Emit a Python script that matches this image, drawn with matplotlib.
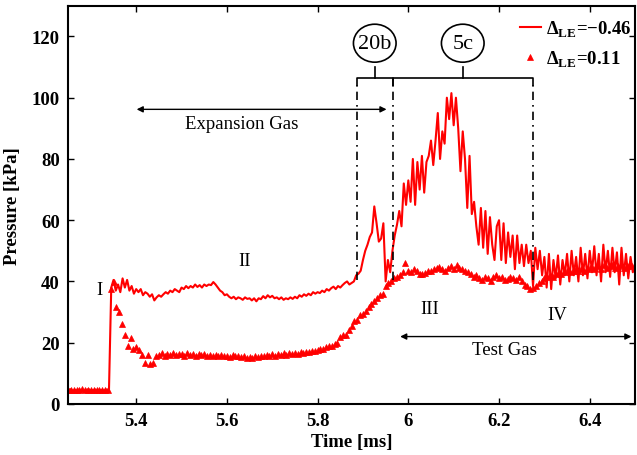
import numpy as np
import matplotlib
matplotlib.use('Agg')
import matplotlib.pyplot as plt
from matplotlib.patches import Ellipse

plt.rcParams['font.family'] = ['Liberation Serif', 'DejaVu Serif']
plt.rcParams['mathtext.fontset'] = 'custom'
plt.rcParams['mathtext.rm'] = 'Liberation Serif'
plt.rcParams['mathtext.bf'] = 'Liberation Serif:bold'

# Delta_LE = -0.46, sampled every 0.005 ms from 5.25 ms
t0_line = 5.25
dt_line = 0.005
p_line = [
    4.5, 4.8, 4.3, 4.6, 4.4, 4.7, 4.5, 4.3, 4.6, 4.8,
    4.4, 4.5, 4.7, 4.3, 4.6, 4.5, 4.4, 4.7, 4.5, 38.0,
    40.5, 37.0, 39.0, 36.5, 41.0, 38.0, 40.5, 37.0, 38.5, 36.0,
    37.5, 36.5, 37.5, 35.5, 36.5, 36.0, 35.0, 35.8, 33.8, 34.8,
    35.5, 35.0, 35.8, 36.5, 36.0, 37.0, 36.5, 37.5, 37.0, 36.5,
    38.0, 37.5, 38.5, 37.8, 38.5, 38.0, 39.0, 38.2, 38.8, 38.0,
    39.0, 38.5, 39.0, 38.8, 39.8, 39.0, 38.0, 37.0, 36.5, 35.5,
    35.8, 35.0, 34.5, 35.0, 34.2, 34.8, 34.5, 34.0, 34.8, 34.3,
    34.5, 33.8, 34.5, 33.5, 34.5, 34.2, 35.2, 34.5, 35.5, 34.8,
    35.3, 34.5, 34.8, 34.2, 34.8, 34.0, 34.5, 34.2, 34.8, 34.3,
    35.0, 34.5, 35.5, 35.0, 35.8, 35.3, 36.0, 35.5, 36.5, 36.0,
    36.5, 36.2, 37.0, 36.5, 37.5, 37.0, 37.8, 38.3, 37.5, 38.5,
    38.0, 38.8, 39.5, 40.0, 39.0, 39.5, 40.0, 42.0, 42.5, 43.5,
    47.0, 50.0, 52.0, 54.5, 56.0, 64.5, 59.0, 53.0, 54.0, 59.0,
    40.0, 47.0, 43.0, 50.0, 55.0, 58.5, 63.0, 58.0, 72.0, 65.0,
    73.0, 66.0, 80.0, 65.0, 79.0, 70.0, 81.0, 69.0, 79.0, 81.0,
    86.0, 78.0, 86.0, 95.0, 80.0, 89.0, 85.0, 100.0, 93.0, 101.5,
    91.0, 100.0, 90.0, 76.0, 89.0, 80.0, 64.0, 81.0, 62.0, 66.0,
    58.0, 52.0, 64.0, 51.0, 63.0, 49.0, 61.0, 52.0, 47.0, 58.0,
    60.0, 47.0, 59.0, 46.0, 56.0, 48.0, 55.0, 44.0, 55.0, 46.0,
    52.0, 45.0, 52.0, 46.0, 50.0, 38.5, 51.0, 44.0, 50.0, 42.0,
    48.0, 38.0, 49.0, 37.5, 47.0, 41.0, 48.5, 39.0, 47.0, 42.0,
    49.0, 40.0, 50.0, 42.0, 48.0, 40.0, 51.0, 42.0, 49.0, 41.0,
    50.0, 43.0, 51.5, 42.0, 49.0, 40.0, 52.0, 43.0, 50.0, 41.5,
    51.0, 43.0, 49.5, 39.0, 51.0, 42.0, 49.0, 41.0, 48.0, 43.0,
    45.0,
]

# Delta_LE = 0.11, sampled every 0.00625 ms from 5.25 ms
t0_tri = 5.25
dt_tri = 0.00625
p_tri = [
    4.5, 4.7, 4.4, 4.6, 4.5, 4.8, 4.4, 4.6,
    4.5, 4.7, 4.4, 4.6, 4.5, 4.7, 4.5, 37.5,
    39.8, 31.5, 30.0, 26.0, 22.5, 19.0, 21.5, 18.0,
    18.5, 17.5, 16.0, 13.5, 16.0, 13.0, 13.5, 15.5,
    16.0, 16.5, 15.8, 16.3, 16.0, 16.6, 15.9, 16.2,
    16.4, 15.8, 16.5, 16.0, 16.3, 15.7, 16.2, 16.0,
    16.3, 15.8, 16.1, 15.6, 16.0, 15.5, 15.9, 15.6,
    15.8, 15.4, 15.9, 15.5, 15.7, 15.2, 15.6, 15.0,
    15.4, 15.0, 15.6, 15.3, 15.8, 15.5, 16.0, 15.7,
    16.2, 15.8, 16.3, 16.0, 16.5, 16.1, 16.6, 16.3,
    16.5, 16.2, 16.8, 16.5, 17.0, 16.8, 17.3, 17.2,
    17.5, 18.0, 18.0, 18.5, 18.8, 19.0, 19.5, 20.0,
    22.0, 22.5, 22.5, 24.0, 25.5, 27.0, 27.5, 29.0,
    29.5, 30.5, 31.5, 32.5, 33.5, 34.5, 35.5, 36.0,
    38.5, 39.5, 40.0, 41.0, 41.5, 42.0, 43.0, 46.0,
    43.5, 43.0, 44.0, 43.5, 42.5, 42.5, 42.8, 43.5,
    43.5, 44.0, 44.3, 44.8, 44.0, 43.5, 44.5, 45.0,
    44.0, 45.5, 44.5, 44.0, 43.5, 43.0, 42.5, 41.5,
    42.0, 41.0, 40.5, 41.5, 41.0, 40.0, 41.5, 42.0,
    41.0, 41.5, 40.5, 40.8, 41.5, 41.0, 40.5, 41.5,
    40.0, 39.0, 38.5, 37.5, 38.0, 38.5, 39.5, 40.0,
    41.0, 41.5, 42.0, 41.5, 42.5, 43.0, 42.5, 43.0,
    43.5, 43.0, 43.5, 44.0, 43.5, 44.0, 43.5, 44.0,
    44.5, 44.0, 44.5, 45.0, 44.0, 45.5, 44.5, 45.0,
    45.5, 44.5, 45.0, 45.5, 44.5, 45.0, 45.5, 45.0,
    45.0,
]

legend_labels = ['\u0394$_{\\mathbf{LE}}$=\u22120.46', '\u0394$_{\\mathbf{LE}}$=0.11']
xticks = [5.4, 5.6, 5.8, 6.0, 6.2, 6.4]
xtick_labels = ['5.4', '5.6', '5.8', '6', '6.2', '6.4']
yticks = [0, 20, 40, 60, 80, 100, 120]

# marked intervals (ms) and their tags
cuts = [5.886, 5.966, 6.274]
tags = ['20b', '5c']

t_line = t0_line + dt_line * np.arange(len(p_line))
t_tri = t0_tri + dt_tri * np.arange(len(p_tri))

fig = plt.figure(figsize=(6.37, 4.56), dpi=100)
ax = fig.add_axes([0.107, 0.112, 0.890, 0.873])

ax.plot(t_line, p_line, color='#ff0000', lw=1.5, label=legend_labels[0])
ax.plot(t_tri, p_tri, ls='none', marker='^', ms=5, mew=0.5,
        color='#ff0000', label=legend_labels[1])

ax.set_xlim(5.25, 6.5)
ax.set_ylim(0, 130)
ax.set_xticks(xticks)
ax.set_xticklabels(xtick_labels)
ax.set_yticks(yticks)
for s in ax.spines.values():
    s.set_linewidth(1.5)
ax.tick_params(direction='in', length=4, width=1, top=True, right=True,
               labelsize=13.5, pad=6)
for lab in ax.get_xticklabels() + ax.get_yticklabels():
    lab.set_fontweight('bold')
ax.set_xlabel('Time [ms]', fontsize=13.5, fontweight='bold', labelpad=3)
ax.set_ylabel('Pressure [kPa]', fontsize=13.5, fontweight='bold', labelpad=8)

leg = ax.legend(loc='upper right', bbox_to_anchor=(1.024, 1.01), frameon=False,
                handlelength=1.1, handletextpad=0.3,
                labelspacing=0.5, prop={'weight': 'bold', 'size': 13.5})

# region arrows
arrow = dict(arrowstyle='<|-|>', color='k', lw=1.0, shrinkA=0, shrinkB=0,
             mutation_scale=9)
ax.annotate('', xy=(5.401, 96.2), xytext=(5.952, 96.2), arrowprops=arrow)
ax.text(5.632, 91.6, 'Expansion Gas', fontsize=13.5, ha='center', va='center')
ax.annotate('', xy=(5.982, 22.0), xytext=(6.492, 22.0), arrowprops=arrow)
ax.text(6.213, 17.9, 'Test Gas', fontsize=13.5, ha='center', va='center')

# phase labels
ax.text(5.318, 37.5, 'I', fontsize=13.5, ha='center', va='center')
ax.text(5.639, 47.0, 'II', fontsize=13.5, ha='center', va='center')
ax.text(6.048, 31.0, 'III', fontsize=13.5, ha='center', va='center')
ax.text(6.329, 29.3, 'IV', fontsize=13.5, ha='center', va='center')

# dash-dot boundaries and brackets
for c in cuts:
    ax.plot([c, c], [40.5, 104.0], color='k', lw=1.2, ls='-.', dashes=(5, 3, 1, 3))
for a, b, tag in zip(cuts[:-1], cuts[1:], tags):
    mid = 0.5 * (a + b)
    ax.plot([a, a, b, b], [104.0, 106.3, 106.3, 104.0], color='k', lw=1.2)
    ax.plot([mid, mid], [106.3, 109.9], color='k', lw=1.2)
    ax.add_patch(Ellipse((mid, 117.8), 0.094, 12.4, fill=False, ec='k', lw=1.2))
    ax.text(mid, 117.8, tag, fontsize=16, ha='center', va='center')

fig.savefig('out.png', dpi=100)
